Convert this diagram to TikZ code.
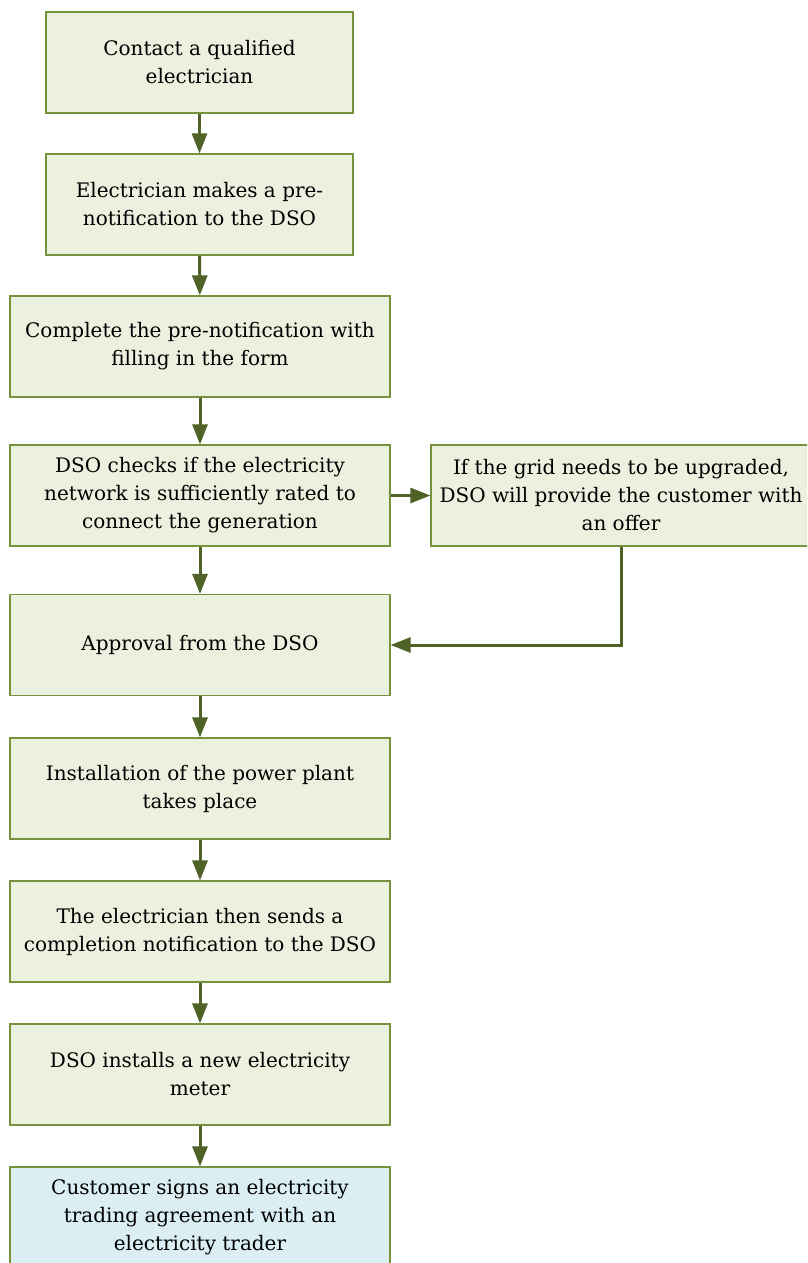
\documentclass[tikz,border=0pt]{standalone}
\usepackage{fontspec}
\setmainfont{DejaVu Serif}
\usetikzlibrary{arrows.meta}
\definecolor{boxfill}{HTML}{EBF1DE}
\definecolor{boxline}{HTML}{76923C}
\definecolor{arrowcol}{HTML}{4F6228}
\definecolor{endfill}{HTML}{DAEEF3}
\begin{document}
\begin{tikzpicture}[x=1pt,y=-1pt,
  stepbox/.style={draw=boxline, line width=1.2pt, fill=boxfill, align=center,
    font=\fontsize{20}{28}\selectfont, text=black, inner sep=0pt,
    minimum width=380pt, minimum height=101pt},
  narrowbox/.style={stepbox, minimum width=307pt},
  endbox/.style={stepbox, fill=endfill},
  flow/.style={draw=arrowcol, line width=3pt, -{Triangle[length=20pt,width=15pt]}}]
  \clip (0,0) rectangle (807,1263);
  \fill[white] (0,0) rectangle (807,1263);

  % main column of steps
  \node[narrowbox] (contact) at (199.5,62.5) {Contact a qualified\\electrician};
  \node[narrowbox] (prenote) at (199.5,204.5) {Electrician makes a pre-\\notification to the DSO};
  \node[stepbox] (form) at (200,346.5) {Complete the pre-notification with\\filling in the form};
  \node[stepbox] (check) at (200,495.5) {DSO checks if the electricity\\network is sufficiently rated to\\connect the generation};
  \node[stepbox] (approval) at (200,645) {Approval from the DSO};
  \node[stepbox] (install) at (200,788.5) {Installation of the power plant\\takes place};
  \node[stepbox] (complete) at (200,931.5) {The electrician then sends a\\completion notification to the DSO};
  \node[stepbox] (meter) at (200,1074.5) {DSO installs a new electricity\\meter};
  \node[endbox] (trader) at (200,1217.5) {Customer signs an electricity\\trading agreement with an\\electricity trader};

  % side branch
  \node[stepbox] (offer) at (621,495.5) {If the grid needs to be upgraded,\\DSO will provide the customer with\\an offer};

  % connectors
  \draw[flow] (contact) -- (prenote);
  \draw[flow] (prenote) -- (form);
  \draw[flow] (form) -- (check);
  \draw[flow] (check) -- (approval);
  \draw[flow] (approval) -- (install);
  \draw[flow] (install) -- (complete);
  \draw[flow] (complete) -- (meter);
  \draw[flow] (meter) -- (trader);
  \draw[flow] (check.east) -- (offer.west);
  \draw[flow] (offer.south) |- (approval.east);
\end{tikzpicture}
\end{document}
